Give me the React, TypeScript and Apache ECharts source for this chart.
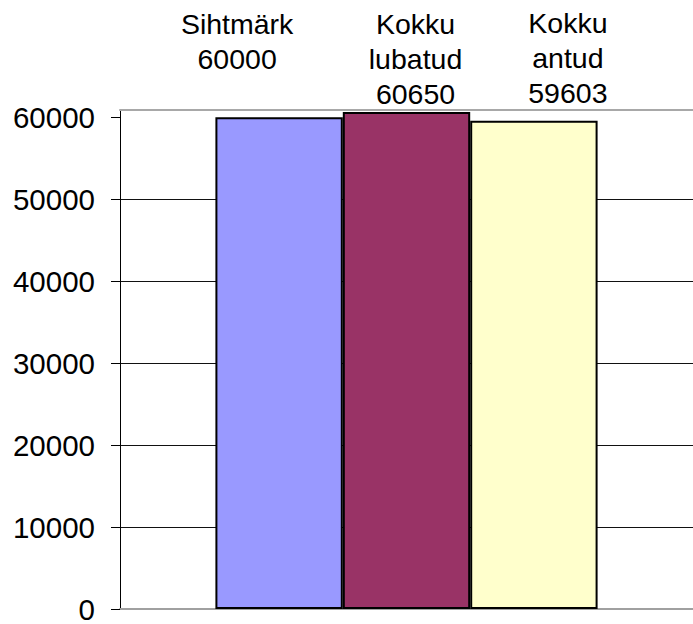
import React, { useEffect, useRef } from "react";
import * as echarts from "echarts";

const seriesNames = ["Sihtmärk", "Kokku lubatud", "Kokku antud"];
const labelTexts = ["Sihtmärk\n60000", "Kokku\nlubatud\n60650", "Kokku\nantud\n59603"];
const values = [60000, 60650, 59603];
const colors = ["#9999FF", "#993366", "#FFFFCC"];
const yTicks = [0, 10000, 20000, 30000, 40000, 50000, 60000];
const labelOffsets: [number, number][] = [[-42, -36], [9, 4], [34, -5]];

export default function App() {
  const ref = useRef<HTMLDivElement>(null);
  useEffect(() => {
    if (!ref.current) return;
    const chart = echarts.init(ref.current, null, { renderer: "svg" });
    const font = "'Liberation Sans', Arial, sans-serif";
    chart.setOption({
      animation: false,
      grid: { left: 120, right: -3, top: 110, bottom: 9, containLabel: false },
      xAxis: [
        {
          type: "category",
          data: [""],
          position: "bottom",
          axisLine: { show: true, lineStyle: { color: "#a0a0a0", width: 2 } },
          axisTick: { show: false },
          axisLabel: { show: false },
        },
        {
          type: "category",
          data: [""],
          position: "top",
          axisLine: { show: true, lineStyle: { color: "#a8a8a8", width: 2 } },
          axisTick: { show: false },
          axisLabel: { show: false },
        },
      ],
      yAxis: {
        type: "value",
        min: 0,
        max: 60900,
        interval: 10000,
        axisLine: { show: true, lineStyle: { color: "#000", width: 1 } },
        axisTick: {
          show: true,
          inside: false,
          length: 9,
          customValues: yTicks,
          lineStyle: { color: "#000", width: 1 },
        },
        axisLabel: {
          show: true,
          customValues: yTicks,
          margin: 25,
          fontSize: 29.5,
          fontFamily: font,
          color: "#000",
          formatter: (v: number) => (v > 60000 ? "" : String(v)),
        },
        splitLine: {
          show: true,
          showMaxLine: false,
          lineStyle: { color: "#111", width: 1 },
        },
      },
      series: seriesNames.map((name, i) => ({
        name,
        type: "bar",
        xAxisIndex: 0,
        barGap: "0%",
        barCategoryGap: "33.3%",
        data: [values[i]],
        itemStyle: { color: colors[i], borderColor: "#000", borderWidth: 2 },
        label: {
          show: true,
          position: "top",
          distance: 5,
          offset: labelOffsets[i],
          formatter: () => labelTexts[i],
          fontSize: 28.5,
          lineHeight: 35,
          fontFamily: font,
          color: "#000",
          align: "center",
        },
      })),
    });
    return () => chart.dispose();
  }, []);
  return (
    <div
      ref={ref}
      style={{ position: "absolute", left: 0, top: 0, width: 693, height: 624, background: "#fff" }}
    />
  );
}
